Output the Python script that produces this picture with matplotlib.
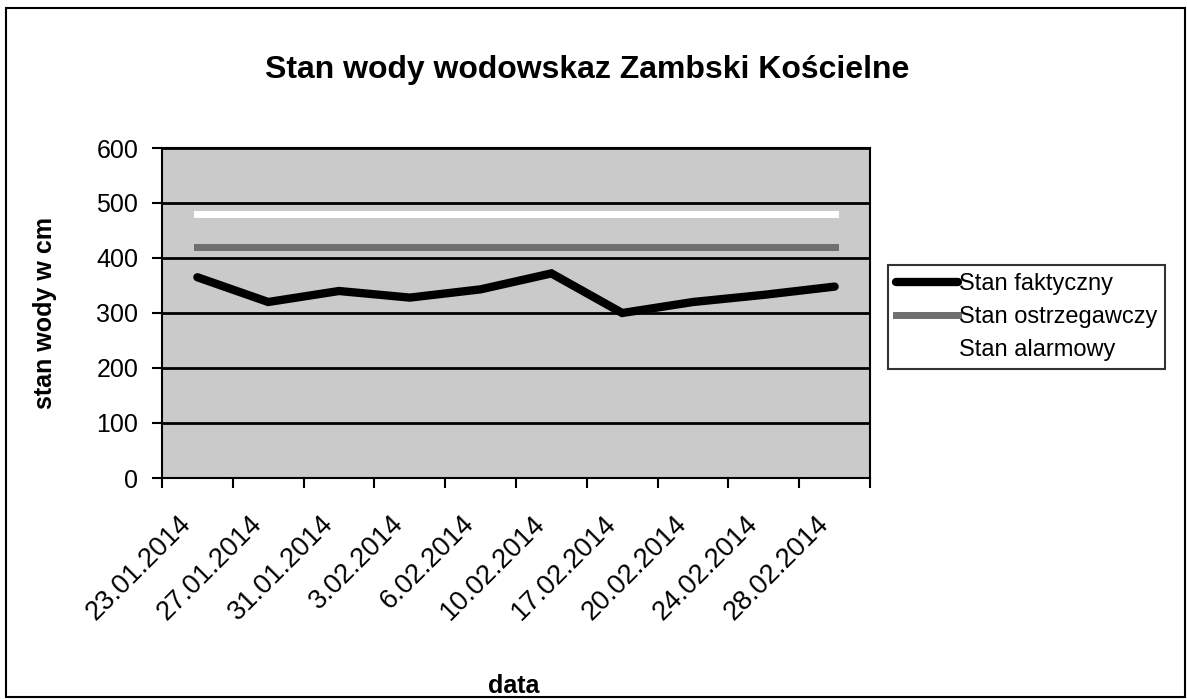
import matplotlib
matplotlib.use("Agg")
import matplotlib.pyplot as plt
import matplotlib.transforms as mtransforms
from matplotlib.patches import Rectangle

plt.rcParams['font.family'] = ['Liberation Sans', 'DejaVu Sans']

dates = ["23.01.2014", "27.01.2014", "31.01.2014", "3.02.2014", "6.02.2014",
         "10.02.2014", "17.02.2014", "20.02.2014", "24.02.2014", "28.02.2014"]
stan_faktyczny = [365, 320, 340, 328, 343, 372, 300, 320, 333, 348]
stan_ostrzegawczy = [420] * 10
stan_alarmowy = [480] * 10
y_ticks = [0, 100, 200, 300, 400, 500, 600]

W, H = 1187, 699
fig = plt.figure(figsize=(W / 100, H / 100), dpi=100)
fig.patches.append(Rectangle((0.005, 0.003), 0.993, 0.985, transform=fig.transFigure,
                             fill=False, edgecolor='black', linewidth=1.5))
ax = fig.add_axes([162 / W, 1 - 478 / H, (870 - 162) / W, (478 - 148) / H])
ax.set_facecolor('#cacaca')
x = list(range(len(dates)))

ax.plot(x, stan_faktyczny, color='black', linewidth=6, solid_capstyle='round',
        solid_joinstyle='miter', label='Stan faktyczny', zorder=4)
ax.plot(x, stan_ostrzegawczy, color='#6f6f6f', linewidth=5,
        label='Stan ostrzegawczy', zorder=3)
ax.plot(x, stan_alarmowy, color='white', linewidth=5,
        label='Stan alarmowy', zorder=3)

ax.set_xlim(-0.5, len(dates) - 0.5)
ax.set_ylim(0, 600)
ax.set_yticks(y_ticks)
ax.yaxis.grid(True, color='black', linewidth=2)
ax.set_axisbelow(True)
ax.tick_params(axis='y', labelsize=18, length=7, width=1.5, direction='out', pad=10)

ax.set_xticks(x)
ax.set_xticklabels(dates, rotation=45, ha='right', va='center', fontsize=19.5,
                   rotation_mode='anchor')
ax.tick_params(axis='x', which='major', length=0, pad=30)
offset = mtransforms.ScaledTranslation(-10 / 100, 0, fig.dpi_scale_trans)
for lbl in ax.get_xticklabels():
    lbl.set_transform(lbl.get_transform() + offset)
ax.set_xticks([i - 0.5 for i in range(len(dates) + 1)], minor=True)
ax.tick_params(axis='x', which='minor', length=7, width=1.5, direction='out')

for s in ax.spines.values():
    s.set_linewidth(1.5)

fig.text(45 / W, 1 - 313 / H, 'stan wody w cm', rotation=90, ha='center', va='center',
         fontsize=18, fontweight='bold')
fig.text(514 / W, 1 - 686 / H, 'data', ha='center', va='center',
         fontsize=18, fontweight='bold')
fig.text(587 / W, 1 - 70 / H, 'Stan wody wodowskaz Zambski Kościelne',
         ha='center', va='center', fontsize=23, fontweight='bold')

leg = ax.legend(loc='upper left', bbox_to_anchor=(888 / W, 1 - 265 / H),
                bbox_transform=fig.transFigure, fontsize=17,
                frameon=True, fancybox=False, edgecolor='black',
                handlelength=2.6, handletextpad=0.05, borderpad=0.35,
                borderaxespad=0, labelspacing=0.45)
leg.get_frame().set_linewidth(1.5)

fig.savefig('out.png', dpi=100)
